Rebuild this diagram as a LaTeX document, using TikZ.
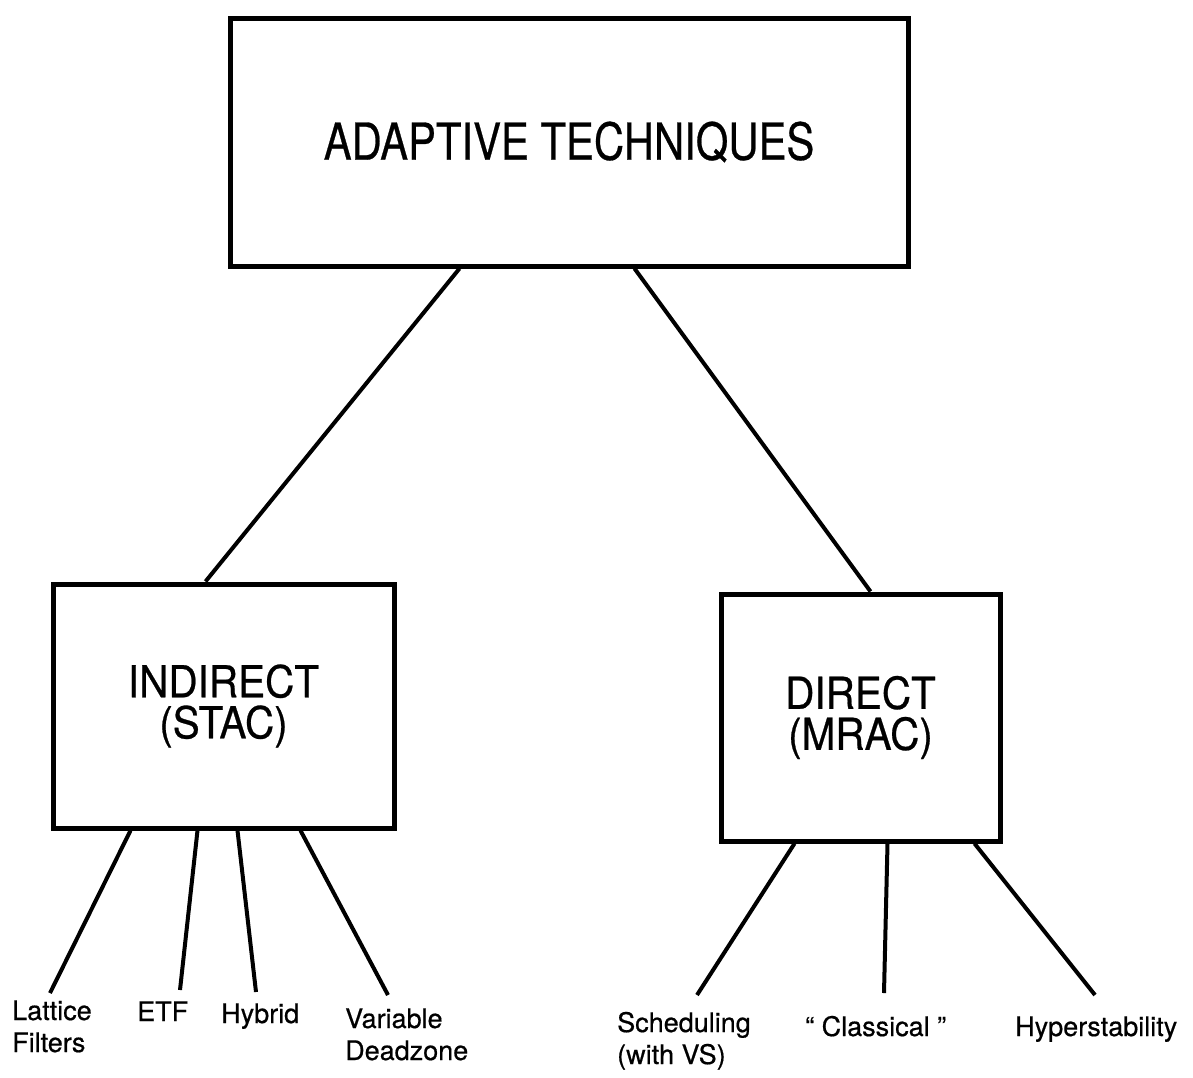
\documentclass[tikz,border=0pt]{standalone}
\usepackage{fontspec}
\setmainfont{TeX Gyre Heros}[FakeBold=0.6]
\usetikzlibrary{calc}
\begin{document}
\begin{tikzpicture}[x=1pt,y=-1pt,
  box/.style={draw, line width=5pt, inner sep=0pt, align=center},
  conn/.style={line width=4pt},
  mid/.style={font=\fontsize{44}{41}\selectfont},
  leaf/.style={anchor=base west, inner sep=0pt, align=left,
    font=\fontsize{27}{32}\selectfont}]
\useasboundingbox (0,0) rectangle (1193,1077);
% boxes
\node[box, minimum width=678pt, minimum height=248pt,
  font=\fontsize{51}{56}\selectfont] (top) at (569,142)
  {\scalebox{0.82}[1]{ADAPTIVE TECHNIQUES}};
\node[box, mid, minimum width=341pt, minimum height=244pt] (ind) at (223.5,706)
  {\scalebox{0.92}[1]{INDIRECT}\\\scalebox{0.92}[1]{(STAC)}};
\node[box, mid, minimum width=279pt, minimum height=247pt] (dir) at (860.5,717.5)
  {\scalebox{0.92}[1]{DIRECT}\\\scalebox{0.92}[1]{(MRAC)}};
% top-level connectors
\draw[conn] ($(top.south west)+(232,0)$) -- ($(ind.north west)+(155,0)$);
\draw[conn] ($(top.south west)+(407,0)$) -- ($(dir.north west)+(152,0)$);
% leaf end points
\coordinate (e1) at (50,993);
\coordinate (e2) at (180,990);
\coordinate (e3) at (256,992);
\coordinate (e4) at (388,995);
\coordinate (e5) at (697,995);
\coordinate (e6) at (884,993);
\coordinate (e7) at (1095,995);
\draw[conn] ($(ind.south west)+(80,0)$) -- (e1);
\draw[conn] ($(ind.south west)+(147,0)$) -- (e2);
\draw[conn] ($(ind.south west)+(187,0)$) -- (e3);
\draw[conn] ($(ind.south west)+(250,0)$) -- (e4);
\draw[conn] ($(dir.south west)+(76,0)$) -- (e5);
\draw[conn] ($(dir.south west)+(169,0)$) -- (e6);
\draw[conn] ($(dir.south west)+(256,0)$) -- (e7);
% leaf labels (base = baseline of last line)
\node[leaf] (l1) at (12,1052) {Lattice\\Filters};
\node[leaf] (l2) at (137,1021) {ETF};
\node[leaf] (l3) at (221,1023) {Hybrid};
\node[leaf] (l4) at (345,1060) {Variable\\Deadzone};
\node[leaf] (l5) at (617,1064) {Scheduling\\(with VS)};
\node[leaf] (l6) at (805,1036) {“ Classical ”};
\node[leaf] (l7) at (1015,1036) {Hyperstability};
\end{tikzpicture}
\end{document}
